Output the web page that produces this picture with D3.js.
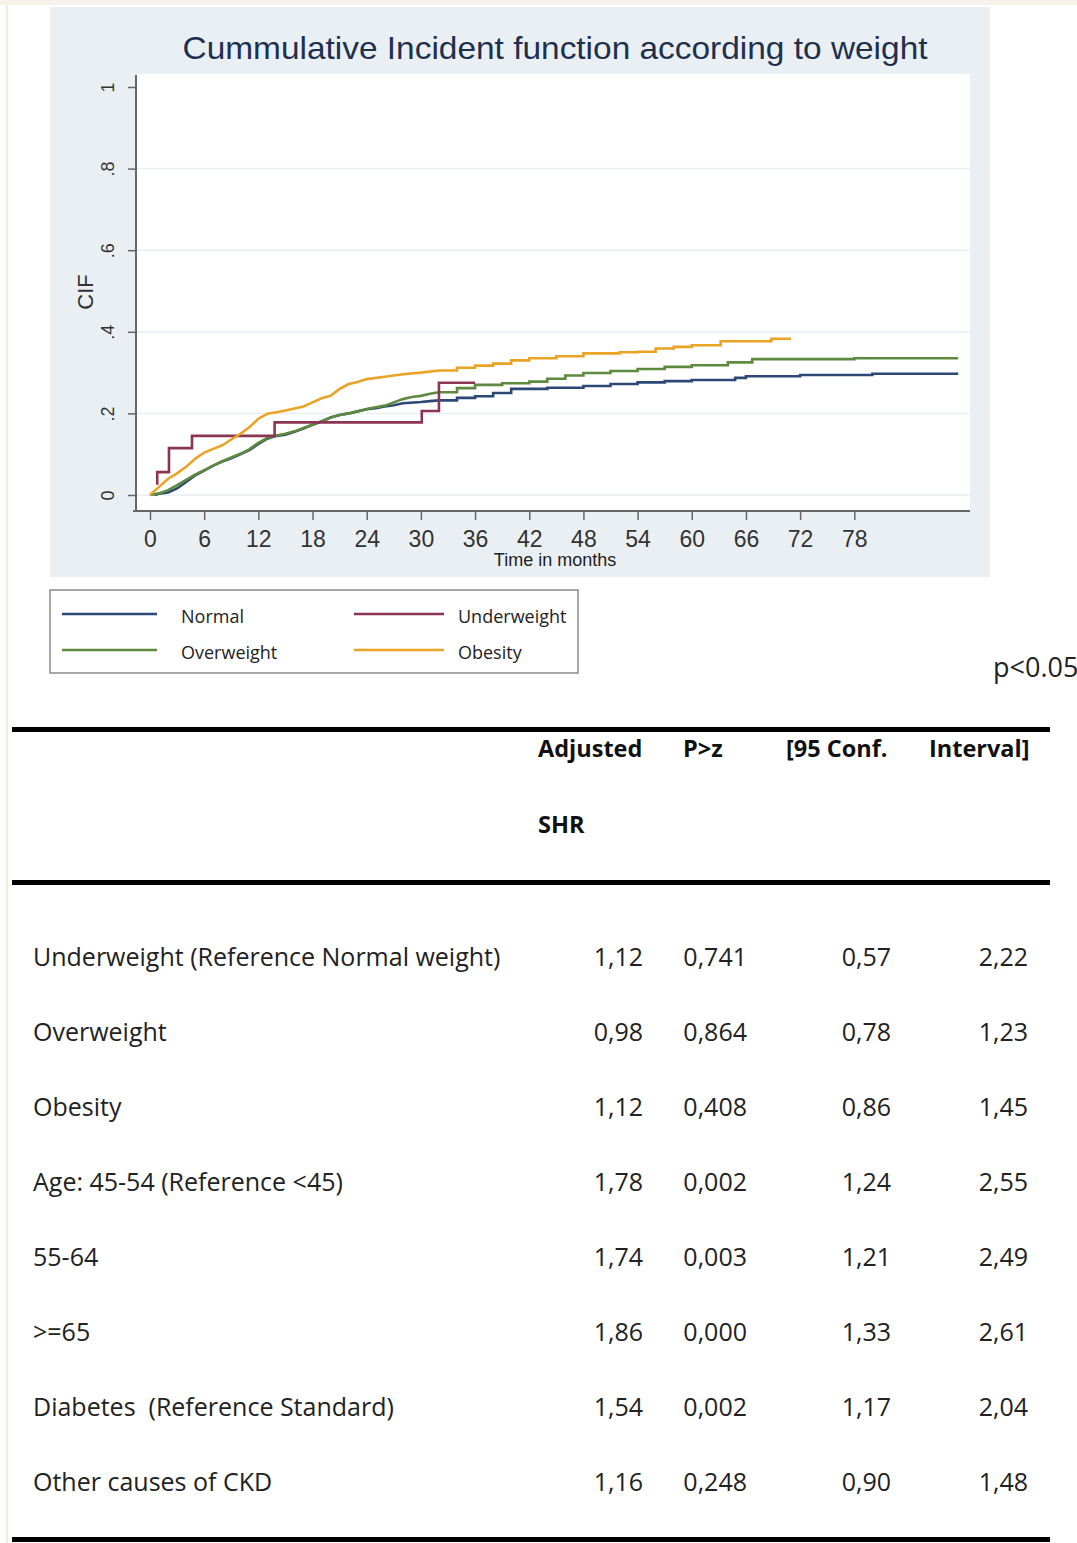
<!DOCTYPE html>
<html>
<head>
<meta charset="utf-8">
<script src="https://cdn.jsdelivr.net/npm/d3@7"></script>
<style>
  body { margin: 0; background: #fff; overflow: hidden; }
  svg { display: block; }
  text { white-space: pre; }
</style>
</head>
<body>
<div id="fig"></div>
<script>
// ---- data ----
const xTicks = [0, 6, 12, 18, 24, 30, 36, 42, 48, 54, 60, 66, 72, 78];
const yTicks = [0, 0.2, 0.4, 0.6, 0.8, 1];
const yTickLabels = ["0", ".2", ".4", ".6", ".8", "1"];

const seriesNames = ["Normal", "Underweight", "Overweight", "Obesity"];
const seriesColors = ["#2c4875", "#8c3552", "#5d8a3e", "#eaa325"];

// [month, CIF]
const normalCurve = [[0.5,0],[1,0.003],[2,0.006],[3,0.016],[4,0.032],[5,0.048],[6,0.06],[7,0.072],[8,0.082],[9,0.09],[10,0.1],[11,0.11],[12,0.125],[13,0.138],[14,0.145],[15,0.148],[16,0.155],[17,0.163],[18,0.172],[19,0.18],[20,0.19],[21,0.196],[22,0.2],[23,0.205],[24,0.21],[25,0.213],[26,0.217],[27,0.22],[28,0.225],[30,0.228],[31,0.23],[32,0.232],[34,0.238],[36,0.242],[38,0.25],[40,0.26],[44,0.263],[48,0.267],[51,0.272],[54,0.276],[57,0.279],[60,0.282],[64.8,0.287],[66,0.291],[72,0.294],[80,0.297],[89.5,0.297]];
const overweightCurve = [[0,0],[1,0.004],[2,0.012],[3,0.024],[4,0.037],[5,0.05],[6,0.061],[7,0.072],[8,0.083],[9,0.092],[10,0.101],[11,0.112],[12,0.128],[13,0.14],[14,0.146],[15,0.15],[16,0.156],[17,0.164],[18,0.172],[19,0.181],[20,0.19],[21,0.196],[22,0.2],[23,0.205],[24,0.211],[25,0.215],[26,0.219],[27,0.227],[28,0.235],[29,0.24],[30,0.243],[31,0.248],[32,0.252],[34,0.262],[36,0.27],[39,0.274],[42,0.278],[44,0.285],[46,0.293],[48,0.299],[51,0.304],[54,0.309],[57,0.314],[60,0.318],[64,0.325],[66.7,0.333],[78,0.335],[89.5,0.335]];
const underweightCurve = [[0.8,0.025],[0.8,0.056],[2.1,0.115],[4.65,0.145],[13.8,0.178],[30.1,0.206],[32,0.275],[36,0.275]];
const obesityCurve = [[0,0],[1,0.02],[2,0.04],[3,0.053],[4,0.069],[5,0.089],[6,0.104],[7,0.113],[8,0.122],[9,0.136],[10,0.15],[11,0.166],[12,0.187],[13,0.199],[14,0.203],[15,0.207],[16,0.212],[17,0.217],[18,0.227],[19,0.237],[20,0.243],[21,0.26],[22,0.272],[23,0.277],[24,0.284],[26,0.29],[28,0.296],[30,0.3],[32,0.305],[34,0.312],[36,0.317],[38,0.322],[40,0.33],[42,0.335],[45,0.34],[48,0.347],[52,0.35],[54,0.351],[56,0.359],[58,0.363],[60,0.367],[63.2,0.377],[68.8,0.383],[71,0.383]];

// table
const tableHeader = ["Adjusted", "P>z", "[95 Conf.", "Interval]"];
const rowLabels = ["Underweight (Reference Normal weight)", "Overweight", "Obesity", "Age: 45-54 (Reference <45)", "55-64", ">=65", "Diabetes  (Reference Standard)", "Other causes of CKD"];
const shrValues = ["1,12", "0,98", "1,12", "1,78", "1,74", "1,86", "1,54", "1,16"];
const pValues = ["0,741", "0,864", "0,408", "0,002", "0,003", "0,000", "0,002", "0,248"];
const ciLow = ["0,57", "0,78", "0,86", "1,24", "1,21", "1,33", "1,17", "0,90"];
const ciHigh = ["2,22", "1,23", "1,45", "2,55", "2,49", "2,61", "2,04", "1,48"];

const W = 1077, H = 1543;
const svg = d3.select("#fig").append("svg").attr("width", W).attr("height", H);

// page edges (scan border)
svg.append("rect").attr("x", 0).attr("y", 0).attr("width", W).attr("height", 5).attr("fill", "#f8f3ea");
svg.append("line").attr("x1", 7).attr("x2", 7).attr("y1", 5).attr("y2", H).attr("stroke", "#f1ebdf").attr("stroke-width", 2);

// chart panel
svg.append("rect").attr("x", 50).attr("y", 7).attr("width", 940).attr("height", 570).attr("fill", "#e9eff2");
svg.append("rect").attr("x", 136).attr("y", 74).attr("width", 834).attr("height", 437).attr("fill", "#fff");

const x = d3.scaleLinear().domain([0, 78]).range([150, 854.3]);
const y = d3.scaleLinear().domain([0, 1]).range([495, 87]);

svg.append("text")
  .attr("x", 555).attr("y", 59)
  .attr("text-anchor", "middle")
  .attr("font-family", "Liberation Sans, Arial, sans-serif")
  .attr("font-size", 32)
  .attr("fill", "#1f2f4e")
  .attr("textLength", 745).attr("lengthAdjust", "spacingAndGlyphs")
  .text("Cummulative Incident function according to weight");

// gridlines
svg.append("g").selectAll("line")
  .data(yTicks.filter(d => d < 1))
  .join("line")
  .attr("x1", 137).attr("x2", 970)
  .attr("y1", d => y(d)).attr("y2", d => y(d))
  .attr("stroke", "#e8edf1").attr("stroke-width", 1.5);

// y axis
const yAxis = svg.append("g")
  .attr("transform", "translate(136,0)")
  .call(d3.axisLeft(y).tickValues(yTicks).tickFormat((d, i) => yTickLabels[i]).tickSize(8).tickSizeOuter(0));
yAxis.select(".domain").remove();
yAxis.selectAll("line").attr("stroke", "#666").attr("stroke-width", 1.5);
yAxis.selectAll("text")
  .attr("font-family", "Liberation Sans, Arial, sans-serif")
  .attr("font-size", 18).attr("fill", "#333")
  .attr("text-anchor", "middle")
  .attr("x", 0).attr("dy", 0)
  .attr("transform", "translate(-28,0) rotate(-90)")
  .attr("y", 6);
svg.append("line").attr("x1", 136).attr("x2", 136).attr("y1", 75).attr("y2", 511).attr("stroke", "#666").attr("stroke-width", 2);

// x axis
const xAxis = svg.append("g")
  .attr("transform", "translate(0,511)")
  .call(d3.axisBottom(x).tickValues(xTicks).tickSize(9).tickSizeOuter(0));
xAxis.select(".domain").remove();
xAxis.selectAll("line").attr("stroke", "#666").attr("stroke-width", 1.5);
xAxis.selectAll("text")
  .attr("font-family", "Liberation Sans, Arial, sans-serif")
  .attr("font-size", 23).attr("fill", "#333").attr("y", 20);
svg.append("line").attr("x1", 133).attr("x2", 970).attr("y1", 511).attr("y2", 511).attr("stroke", "#666").attr("stroke-width", 2);

svg.append("text")
  .attr("x", 555).attr("y", 566).attr("text-anchor", "middle")
  .attr("font-family", "Liberation Sans, Arial, sans-serif").attr("font-size", 18).attr("fill", "#222")
  .text("Time in months");

svg.append("text")
  .attr("transform", "translate(93,292) rotate(-90)")
  .attr("text-anchor", "middle")
  .attr("font-family", "Liberation Sans, Arial, sans-serif").attr("font-size", 22).attr("fill", "#333")
  .text("CIF");

// curves: dense early events look like a jagged line, sparse late events as stairs
const smooth = d3.line().x(d => x(d[0])).y(d => y(d[1])).curve(d3.curveLinear);
const stairs = d3.line().x(d => x(d[0])).y(d => y(d[1])).curve(d3.curveStepAfter);
const curves = [normalCurve, underweightCurve, overweightCurve, obesityCurve];
const drawOrder = [0, 2, 1, 3];
drawOrder.forEach(i => {
  const c = curves[i];
  const g = svg.append("g").attr("fill", "none").attr("stroke", seriesColors[i]).attr("stroke-width", 2.6);
  if (i === 1) {
    g.append("path").attr("d", stairs(c));
  } else {
    g.append("path").attr("d", smooth(c.filter(d => d[0] <= 32)));
    g.append("path").attr("d", stairs(c.filter(d => d[0] >= 32)));
  }
});

// legend
svg.append("rect").attr("x", 50).attr("y", 590).attr("width", 528).attr("height", 83)
  .attr("fill", "#fff").attr("stroke", "#8a8a8a").attr("stroke-width", 1.5);
const legendPos = [[62, 614], [354, 614], [62, 650], [354, 650]];
seriesNames.forEach((name, i) => {
  const [lx, ly] = legendPos[i];
  svg.append("line").attr("x1", lx).attr("x2", lx + (i % 2 ? 90 : 95)).attr("y1", ly).attr("y2", ly)
    .attr("stroke", seriesColors[i]).attr("stroke-width", 2.6);
  svg.append("text").attr("x", lx + (i % 2 ? 104 : 119)).attr("y", ly + 9)
    .attr("font-family", "Open Sans, sans-serif").attr("font-size", 18).attr("fill", "#222")
    .text(name);
});

svg.append("text").attr("x", 993).attr("y", 677)
  .attr("font-family", "Open Sans, sans-serif").attr("font-size", 27).attr("fill", "#222")
  .text("p<0.05");

// table
const rules = [730, 883, 1540];
rules.forEach(ry => svg.append("rect").attr("x", 12).attr("y", ry - 3).attr("width", 1038).attr("height", 5).attr("fill", "#000"));

const colRight = [643, 747, 891, 1028];
const headerLeft = [538, 683, 786, 929];
tableHeader.forEach((h, i) => {
  svg.append("text").attr("x", headerLeft[i]).attr("y", 757)
    .attr("font-family", "Open Sans, sans-serif").attr("font-weight", "bold").attr("font-size", 23.5).attr("fill", "#111")
    .text(h);
});
svg.append("text").attr("x", 538).attr("y", 833)
  .attr("font-family", "Open Sans, sans-serif").attr("font-weight", "bold").attr("font-size", 23.5).attr("fill", "#111")
  .text("SHR");

const rowY = d3.scalePoint().domain(rowLabels).range([957, 1482]);
const cols = [shrValues, pValues, ciLow, ciHigh];
rowLabels.forEach((lab, r) => {
  const cy = rowY(lab) + 9;
  svg.append("text").attr("x", 33).attr("y", cy)
    .attr("font-family", "Open Sans, sans-serif").attr("font-size", 25).attr("fill", "#222")
    .text(lab);
  cols.forEach((c, j) => {
    svg.append("text").attr("x", colRight[j]).attr("y", cy).attr("text-anchor", "end")
      .attr("font-family", "Open Sans, sans-serif").attr("font-size", 25).attr("fill", "#222")
      .text(c[r]);
  });
});
</script>
</body>
</html>
